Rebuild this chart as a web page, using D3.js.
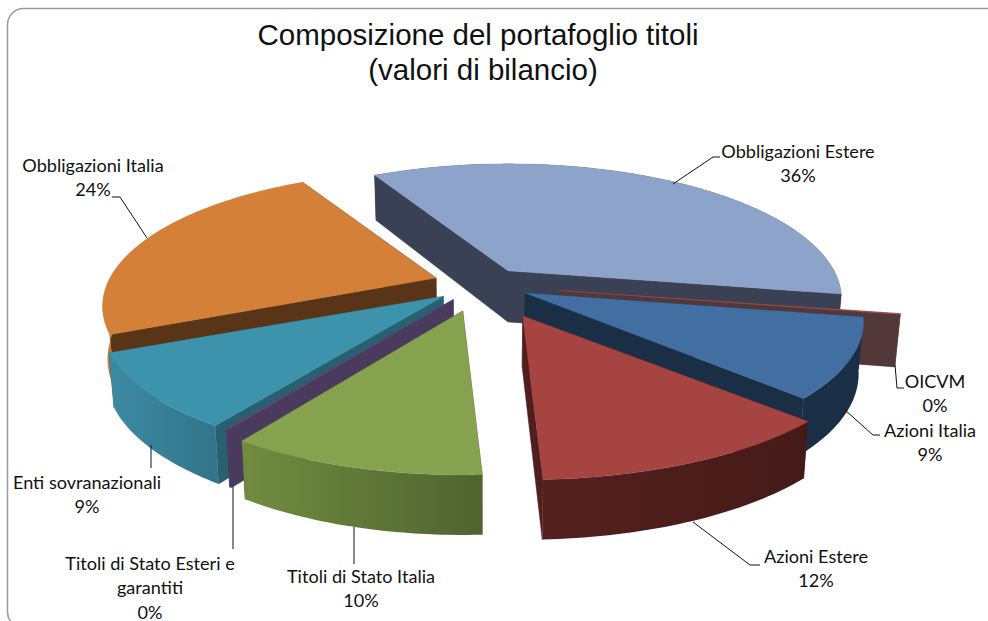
<!DOCTYPE html>
<html><head><meta charset="utf-8">
<script src="https://cdn.jsdelivr.net/npm/d3@7"></script>
<style>html,body{margin:0;padding:0;background:#fff}svg{display:block}</style></head>
<body><svg id="c" width="988" height="621"></svg>
<script>
// ---- data (clockwise, starting at the first slice) ----
const categories = ["Obbligazioni Estere","OICVM","Azioni Italia","Azioni Estere","Titoli di Stato Italia","Titoli di Stato Esteri e garantiti","Enti sovranazionali","Obbligazioni Italia"];
const values = [35.8,0.1,9.4,12.0,10.2,0.1,8.9,23.5];
const explosions = [0.147,0.245,0.15,0.28,0.2,0.142,0.147,0.147];

// ---- styles / layout ----
const topColors  = ["#8ea3c9","#a5524f","#426ea2","#a64441","#87a24e","#5f4a80","#3d93ab","#d58039"];
const wallColors = ["#3a4155","#523838","#1a2e46","#4f1f1e","#4f6330","#4a3a5e","#28606f","#5a3416"];
const rimFrom    = ["#3a4155","#523838","#1a2e46","#55211f","#718c40","#4a3a5e","#3c8ba3","#c97a35"];
const rimTo      = ["#3a4155","#523838","#1a2e46","#441a18","#4f6330","#4a3a5e","#33748a","#c97a35"];
const drawOrder  = [0,1,7,2,6,5,3,4];
const apexNudge  = [[0,-1],[0,-2],[0,-3],[2,-6],[0,-2],[-1,-3],[0,-3],[0,-3]];
const sliceStretch = [1,1.02,1.015,1.04,1,1.02,1.025,1];
const labelLines = [["Obbligazioni Estere","36%"],["OICVM","0%"],["Azioni Italia","9%"],["Azioni Estere","12%"],["Titoli di Stato Italia","10%"],["Titoli di Stato Esteri e","garantiti","0%"],["Enti sovranazionali","9%"],["Obbligazioni Italia","24%"]];
const labelPos = [[798,158],[935,388],[930,437],[816,563],[361,583],[150,570],[87,489],[93,172]];
const leaderTo = [[[713,157],[720,157]],[[897,388],[904,388]],[[873,435],[880,435]],[[750,565],[760,565]],[[354,564]],[[233,549]],[[151,468]],[[120,197],[112,197]]];
const leaderFrom = [[673,184],[895,365],[845,410],[693,522],[354,527],[233,487],[151,445],[147,238]];

const cx=481, cy=287, a=326, b=129.5, k=0.21, H=51, conv=0.987;
const startAngle = -29*Math.PI/180;

const svg = d3.select("#c");
const defs = svg.append("defs");
svg.append("rect").attr("x",7.5).attr("y",8.5).attr("width",1000).attr("height",619.5).attr("rx",16)
  .attr("fill","#fff").attr("stroke","#9a9a9a").attr("stroke-width",1.5);

const pie = d3.pie().sort(null).startAngle(startAngle).endAngle(startAngle+2*Math.PI);
const arcs = pie(values);

// plane → screen perspective, about the pie centre
function proj(X,Z){const w=1-k*Z;return [a*X/w, b*Z/w];}
const line = d3.line();

drawOrder.forEach(i=>{
  const d=arcs[i], e=explosions[i];
  const mid=(d.startAngle+d.endAngle)/2;
  const oP=proj(e*Math.sin(mid),-e*Math.cos(mid));
  const ax=cx+oP[0]+apexNudge[i][0], ay=cy+oP[1]+apexNudge[i][1];
  const toBottom=(p,Z)=>[cx+(p[0]-cx)*conv, p[1]+H/(1-0.15*Z)];
  const n=Math.max(2,Math.ceil((d.endAngle-d.startAngle)/0.02));
  const angs=d3.range(n+1).map(j=>d.startAngle+(d.endAngle-d.startAngle)*j/n);
  const rimZ=angs.map(t=>-Math.cos(t));
  const topRim=angs.map(t=>{const q=proj(Math.sin(t),-Math.cos(t));return [ax+q[0]*sliceStretch[i],ay+q[1]];});
  const botRim=topRim.map((p,j)=>toBottom(p,rimZ[j]));
  const at=[ax,ay], ab=toBottom(at,0);
  const g=svg.append("g");
  // radial walls (one path, so no seam at the apex)
  g.append("path").attr("d",line([at,topRim[0],botRim[0],ab])+"Z"+line([at,topRim[n],botRim[n],ab])+"Z")
    .attr("fill",wallColors[i]).attr("fill-rule","nonzero").attr("stroke",wallColors[i]).attr("stroke-width",0.5);
  // rim wall
  const gid="rim"+i;
  const xs=topRim.map(p=>p[0]);
  const lg=defs.append("linearGradient").attr("id",gid).attr("gradientUnits","userSpaceOnUse")
    .attr("x1",d3.min(xs)).attr("x2",d3.max(xs)).attr("y1",0).attr("y2",0);
  lg.append("stop").attr("offset",0).attr("stop-color",rimFrom[i]);
  lg.append("stop").attr("offset",1).attr("stop-color",rimTo[i]);
  g.append("path").attr("d",line(topRim.concat(botRim.slice().reverse()))+"Z").attr("fill",`url(#${gid})`);
  // top face
  g.append("path").attr("d",line([at].concat(topRim))+"Z").attr("fill",topColors[i]).attr("stroke",topColors[i]).attr("stroke-width",0.4);
});

// leaders and labels
categories.forEach((c,i)=>{
  svg.append("path").attr("d",line([leaderFrom[i]].concat(leaderTo[i])))
    .attr("fill","none").attr("stroke","#111").attr("stroke-width",1);
  const t=svg.append("text").attr("text-anchor","middle").attr("font-family","Lato, 'Open Sans', sans-serif").attr("font-size",18.1).attr("fill","#111");
  labelLines[i].forEach((s,j)=>t.append("tspan").attr("x",labelPos[i][0]).attr("y",labelPos[i][1]+j*24.4).text(s));
});

const title=svg.append("text").attr("text-anchor","middle").attr("font-family","'Liberation Sans',Arial,sans-serif").attr("font-size",29.5).attr("fill","#111");
title.append("tspan").attr("x",478).attr("y",45).text("Composizione del portafoglio titoli");
title.append("tspan").attr("x",483).attr("y",80).text("(valori di bilancio)");
</script></body></html>
